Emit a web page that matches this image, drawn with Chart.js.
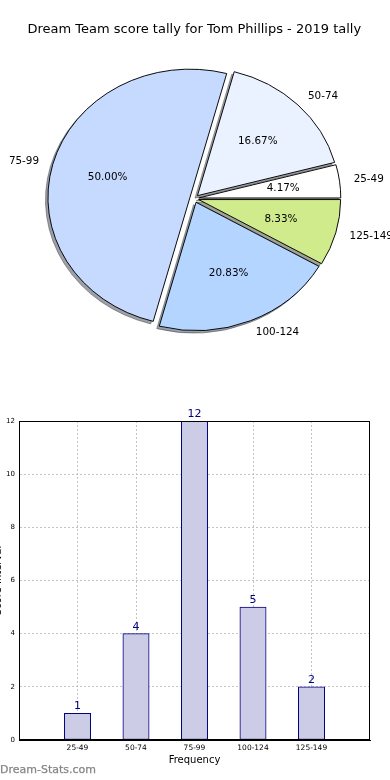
<!DOCTYPE html>
<html><head><meta charset="utf-8">
<script src="https://cdn.jsdelivr.net/npm/chart.js@4"></script>
<style>
html,body{margin:0;padding:0;background:#fff;width:390px;height:780px;overflow:hidden;position:relative}
#pie{position:absolute;left:0;top:0}
#bar{position:absolute;left:-8px;top:400px}
#wm{position:absolute;left:0;top:763px;font:11px 'DejaVu Sans';color:#858585;white-space:nowrap;-webkit-text-stroke:0.25px #858585}
</style></head><body>
<canvas id="pie" width="390" height="390"></canvas>
<canvas id="bar" width="398" height="380"></canvas>
<div id="wm">Dream-Stats.com</div>
<script>
// ---- data ----
const categories = ['25-49', '50-74', '75-99', '100-124', '125-149'];
const tallies = [1, 4, 12, 5, 2];
const sliceColors = ['#ffffff', '#eaf1ff', '#c6d9ff', '#b4d5ff', '#d0eb8b'];
const yTickStep = 2;
const yMax = 12;
const chartTitle = 'Dream Team score tally for Tom Phillips - 2019 tally';
const xTitle = 'Frequency';
const yTitle = 'Score Interval';

Chart.defaults.font.family = "'DejaVu Sans', sans-serif";
Chart.defaults.color = '#000';

// ---- pie (matplotlib style: counter-clockwise from east, exploded, shadowed, elliptical) ----
const K = 128.3 / 142;      // vertical squash of the ellipse
const EXPLODE = 4.5;        // px
const SH_DX = -2.5, SH_DY = 2.5;
const pieOrder = categories.map((_, i) => i).reverse();
const total = tallies.reduce((a, b) => a + b, 0);

function hexToRgb(h){ const n = parseInt(h.slice(1),16); return [(n>>16)&255,(n>>8)&255,n&255]; }

const piePlugin = {
  id: 'pieDraw',
  beforeDatasetsDraw(chart) {
    const ctx = chart.ctx;
    const arcs = chart.getDatasetMeta(0).data;
    const cx = arcs[0].x, cy = arcs[0].y, R = arcs[0].outerRadius;
    const toEllipse = () => { ctx.translate(cx, cy); ctx.scale(1, K); ctx.translate(-cx, -cy); };
    // shadows
    arcs.forEach((a, j) => {
      const i = pieOrder[j];
      const [r,g,b] = hexToRgb(sliceColors[i]);
      const col = `rgba(${Math.round(r*0.3)},${Math.round(g*0.3)},${Math.round(b*0.3)},0.5)`;
      const mid = (a.startAngle + a.endAngle) / 2;
      const s = Object.create(a);
      s.options = {backgroundColor: col, borderColor: col, borderWidth: 1, borderAlign: 'center',
        borderJoinStyle: 'miter', borderDash: [], borderDashOffset: 0, offset: 0, spacing: 0,
        circular: true, borderRadius: 0};
      ctx.save();
      ctx.translate(SH_DX, SH_DY);
      toEllipse();
      ctx.translate(Math.cos(mid) * EXPLODE, Math.sin(mid) * EXPLODE);
      s.draw(ctx);
      ctx.restore();
    });
    // wedges
    arcs.forEach((a) => {
      const mid = (a.startAngle + a.endAngle) / 2;
      ctx.save();
      toEllipse();
      ctx.translate(Math.cos(mid) * EXPLODE, Math.sin(mid) * EXPLODE);
      a.draw(ctx);
      ctx.restore();
    });
    // labels
    ctx.save();
    ctx.fillStyle = '#000';
    ctx.font = "10.4px 'DejaVu Sans'";
    ctx.textBaseline = 'middle';
    arcs.forEach((a, j) => {
      const i = pieOrder[j];
      const mid = (a.startAngle + a.endAngle) / 2;
      const c = Math.cos(mid), sn = Math.sin(mid);
      const ex = cx + c * EXPLODE, ey = cy + sn * EXPLODE;
      const lx = ex + 1.1 * R * c, ly = cy + K * (ey + 1.1 * R * sn - cy);
      ctx.textAlign = c > 0 ? 'left' : 'right';
      ctx.fillText(categories[i], lx, ly);
      const px = ex + 0.6 * R * c, py = cy + K * (ey + 0.6 * R * sn - cy);
      ctx.textAlign = 'center';
      ctx.fillText((tallies[i] / total * 100).toFixed(2) + '%', px, py);
    });
    ctx.restore();
    return false;
  }
};

new Chart(document.getElementById('pie'), {
  type: 'pie',
  data: {
    labels: pieOrder.map(i => categories[i]),
    datasets: [{
      data: pieOrder.map(i => tallies[i]),
      backgroundColor: pieOrder.map(i => sliceColors[i]),
      borderColor: '#000',
      borderWidth: 1,
      borderJoinStyle: 'miter'
    }]
  },
  options: {
    responsive: false, animation: false, events: [],
    rotation: 90,
    radius: 142,
    layout: {padding: {left: 0, right: 1.4, top: 0, bottom: 30.6}},
    plugins: {
      legend: {display: false},
      tooltip: {enabled: false},
      title: {display: true, text: chartTitle, color: '#000',
        font: {size: 13, weight: 'normal'}, padding: {top: 22, bottom: 0}}
    }
  },
  plugins: [piePlugin]
});

// ---- bar ----
const barPlugin = {
  id: 'barDeco',
  afterDraw(chart) {
    const {ctx, chartArea: a} = chart;
    ctx.save();
    ctx.strokeStyle = '#000';
    ctx.lineWidth = 1;
    ctx.strokeRect(Math.round(a.left) + 0.5, Math.round(a.top) + 0.5,
      Math.round(a.right - a.left) - 1, Math.round(a.bottom - a.top) - 1);
    const meta = chart.getDatasetMeta(0);
    ctx.fillStyle = '#000080';
    ctx.font = "11px 'DejaVu Sans'";
    ctx.textAlign = 'center';
    ctx.textBaseline = 'alphabetic';
    meta.data.forEach((b, i) => ctx.fillText(String(tallies[i]), b.x, b.y - 4));
    ctx.restore();
  }
};

const gridCol = '#c4c4c4';
new Chart(document.getElementById('bar'), {
  type: 'bar',
  data: {
    datasets: [{
      data: categories.map((c, i) => ({x: i, y: tallies[i]})),
      backgroundColor: '#ccccE6',
      borderColor: '#000080',
      borderWidth: 1,
      borderSkipped: false,
      barThickness: 26.3
    }]
  },
  options: {
    responsive: false, animation: false, events: [],
    layout: {padding: {left: 0, right: 20, top: 21, bottom: 14}},
    plugins: {legend: {display: false}, tooltip: {enabled: false}},
    scales: {
      x: {
        type: 'linear', min: -1, max: categories.length, offset: false, z: 1,
        afterFit(s) { s.height = 26; },
        ticks: {stepSize: 1, autoSkip: false, maxRotation: 0, padding: 4, color: '#000',
          font: {size: 7.5}, callback: v => (categories[v] !== undefined ? categories[v] : '')},
        grid: {offset: false, drawTicks: false, lineWidth: 1,
          color: c => (c.tick && c.tick.value >= 0 && c.tick.value < categories.length) ? gridCol : 'rgba(0,0,0,0)'},
        border: {display: true, color: '#000', width: 1, dash: [2, 2]},
        title: {display: true, text: xTitle, color: '#000', font: {size: 10}, padding: 0}
      },
      y: {
        type: 'linear', min: 0, max: yMax, z: 1,
        afterFit(s) { s.width = 27; },
        ticks: {stepSize: yTickStep, padding: 4, color: '#000', font: {size: 7}},
        grid: {drawTicks: false, lineWidth: 1,
          color: c => (c.tick && c.tick.value > 0 && c.tick.value < yMax) ? gridCol : 'rgba(0,0,0,0)'},
        border: {display: true, color: '#000', width: 1, dash: [2, 2]},
        title: {display: true, text: yTitle, color: '#000', font: {size: 10}, padding: 0}
      }
    }
  },
  plugins: [barPlugin]
});
</script>
</body></html>
